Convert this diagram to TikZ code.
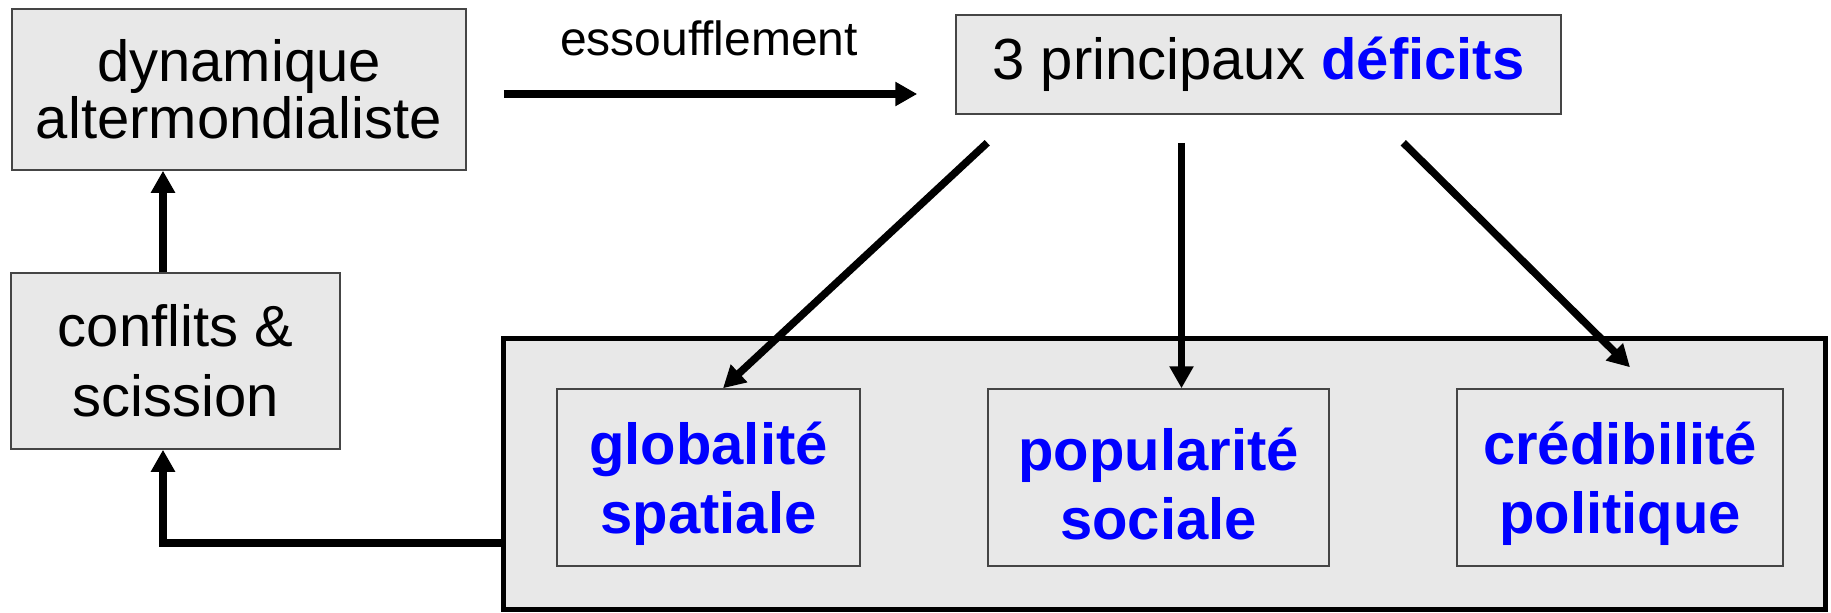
\documentclass[tikz,border=0pt]{standalone}
\usepackage{fontspec}
\setmainfont{Liberation Sans}
\usetikzlibrary{arrows.meta,calc}
\definecolor{boxgray}{HTML}{E8E8E8}
\definecolor{edgegray}{HTML}{454545}
\definecolor{myblue}{HTML}{0000FF}
\newcommand{\topstrut}{\rule{0pt}{56pt}}
\begin{document}
\begin{tikzpicture}[x=1pt,y=-1pt,
  box/.style={draw=edgegray,line width=1.5pt,fill=boxgray,inner sep=0pt,align=center},
  bigbox/.style={draw=black,line width=5pt,fill=boxgray,inner sep=0pt},
  inbox/.style={box,text=myblue,font=\fontsize{58}{69}\selectfont\bfseries,minimum width=#1,minimum height=177pt},
  arr/.style={line width=7.5pt,line cap=butt,-{Triangle[length=22pt,width=23pt]}}]
\useasboundingbox (0,0) rectangle (1831,613);
% boxes
\node[box,font=\fontsize{58}{57}\selectfont,minimum width=454pt,minimum height=161pt] (dyn) at (239,89.5) {dynamique\\altermondialiste};
\node[box,font=\fontsize{58}{70}\selectfont,minimum width=329pt,minimum height=176pt] (conf) at (175.5,361) {conflits \&\\scission};
\node[box,font=\fontsize{58}{58}\selectfont,minimum width=605pt,minimum height=99pt] (def) at (1258.5,64.5) {3 principaux \textbf{\color{myblue}déficits}};
\node[bigbox,minimum width=1322pt,minimum height=271pt] (big) at (1164,474) {};
\node[inbox=303pt] (glob) at (708.5,477.5) {\topstrut globalité\\spatiale};
\node[inbox=341pt] (pop) at (1158.5,477.5) {\topstrut popularité\\sociale};
\node[inbox=326pt] (cred) at (1620,477.5) {\topstrut crédibilité\\politique};
% label
\node[anchor=base,font=\fontsize{48}{48}\selectfont,inner sep=0pt] (lbl) at (709,55) {essoufflement};
% connectors
\draw[arr,shorten <=37pt,shorten >=38pt] ([yshift=-4.5pt]dyn.east) -- ([yshift=-4.5pt]dyn.east -| def.west);
\draw[arr] ($(def.south west)+(32,28)$) -- ($(glob.north)+(14.5,0)$);
\draw[arr] ($(def.south)+(-77,28)$) -- ($(pop.north)+(23,0)$);
\draw[arr] ($(def.south west)+(448,28)$) -- ($(cred.north)+(10,-21)$);
\draw[arr] ([yshift=-69pt]big.west) -| ($(conf.south)+(-12.5,0)$);
\draw[arr] ($(conf.north)+(-12.5,0)$) -- ($(dyn.south)+(-76,0)$);
\end{tikzpicture}
\end{document}
